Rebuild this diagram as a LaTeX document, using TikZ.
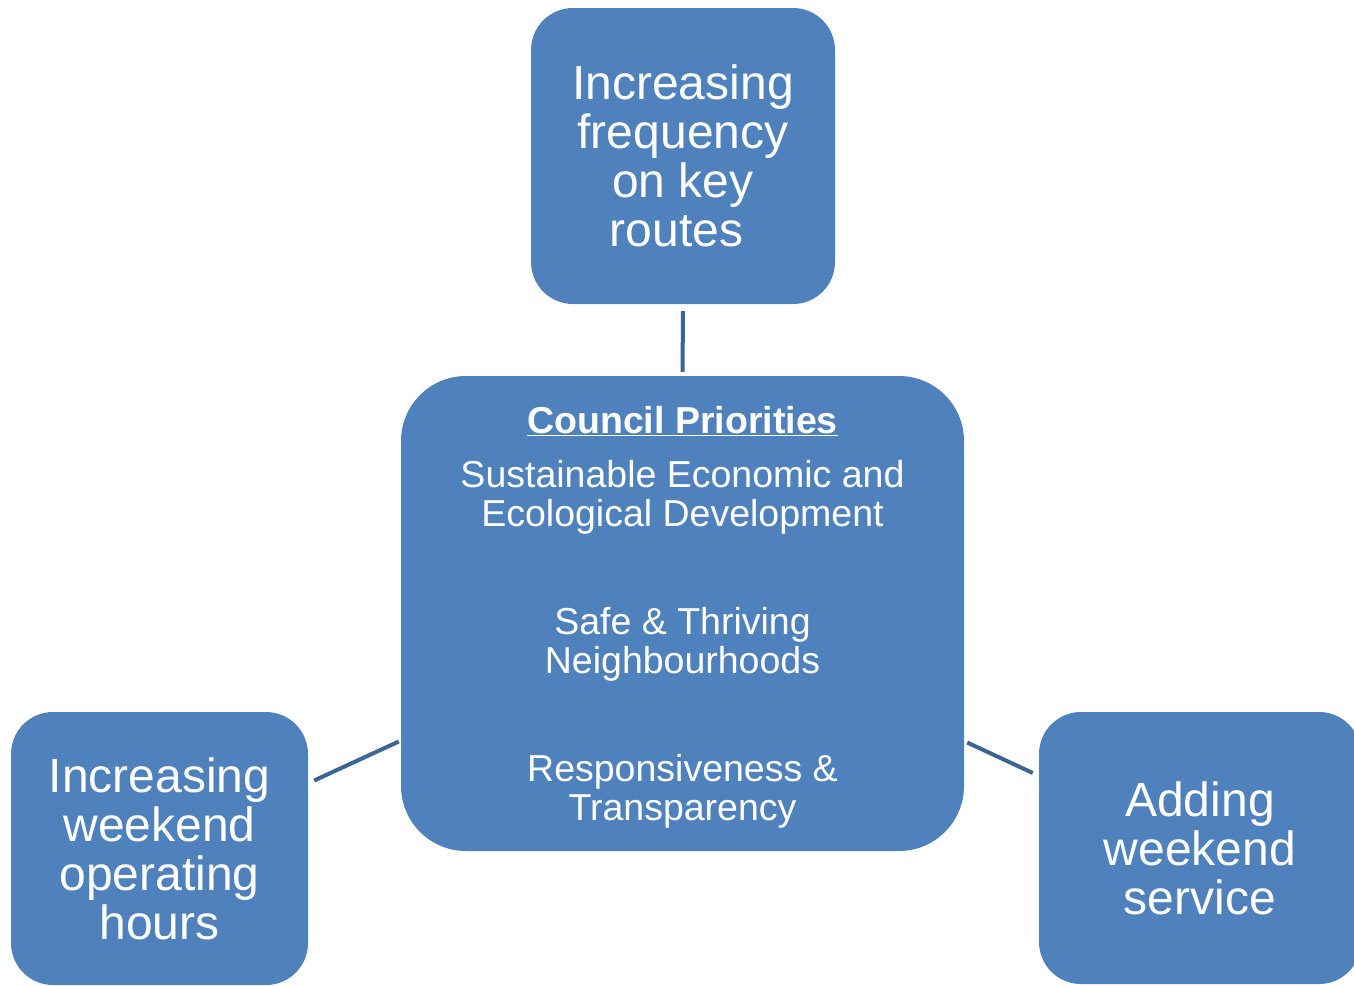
\documentclass[tikz,border=0pt]{standalone}
\usepackage{fontspec}
\setmainfont{Liberation Sans}
\usetikzlibrary{calc}
\definecolor{boxblue}{HTML}{4F81BD}
\definecolor{linkblue}{HTML}{3B6497}
\begin{document}
\begin{tikzpicture}[x=1pt,y=-1pt,
  box/.style={fill=boxblue,draw=none,rounded corners=#1,text=white,align=center,inner sep=0pt},
  big/.style={font=\fontsize{48}{49}\selectfont},
  link/.style={draw=linkblue,line width=4pt}]
\useasboundingbox (0,0) rectangle (1354,985);
\begin{scope}
\clip (0,0) rectangle (1354,985);
\node[box=42pt,big,minimum width=304pt,minimum height=296pt] (top) at (683,156)
  {Increasing\\frequency\\on key\\routes\kern13pt};
\node[box=65pt,minimum width=563pt,minimum height=475pt,font=\fontsize{37.5}{38.5}\selectfont] (center) at (682.5,613.5)
  {\rule{0pt}{34pt}\underline{\textbf{Council Priorities}}\\[16pt]
   Sustainable Economic and\\Ecological Development\\[70pt]
   Safe \& Thriving\\Neighbourhoods\\[70pt]
   Responsiveness \&\\Transparency};
\node[box=42pt,big,minimum width=297pt,minimum height=273pt] (left) at (159.5,848.5)
  {Increasing\\weekend\\operating\\hours};
\node[box=42pt,big,minimum width=322pt,minimum height=272pt] (right) at (1200,848)
  {Adding\\weekend\\service};
\end{scope}
\draw[link] ($(top.south)+(0,7)$) -- ($(center.north)+(0,-4)$);
\draw[link] ($(left.east)+(6,-68)$) -- ($(center.west)+(-2,128)$);
\draw[link] ($(center.east)+(3,129)$) -- ($(right.west)+(-6,-75)$);
\end{tikzpicture}
\end{document}
